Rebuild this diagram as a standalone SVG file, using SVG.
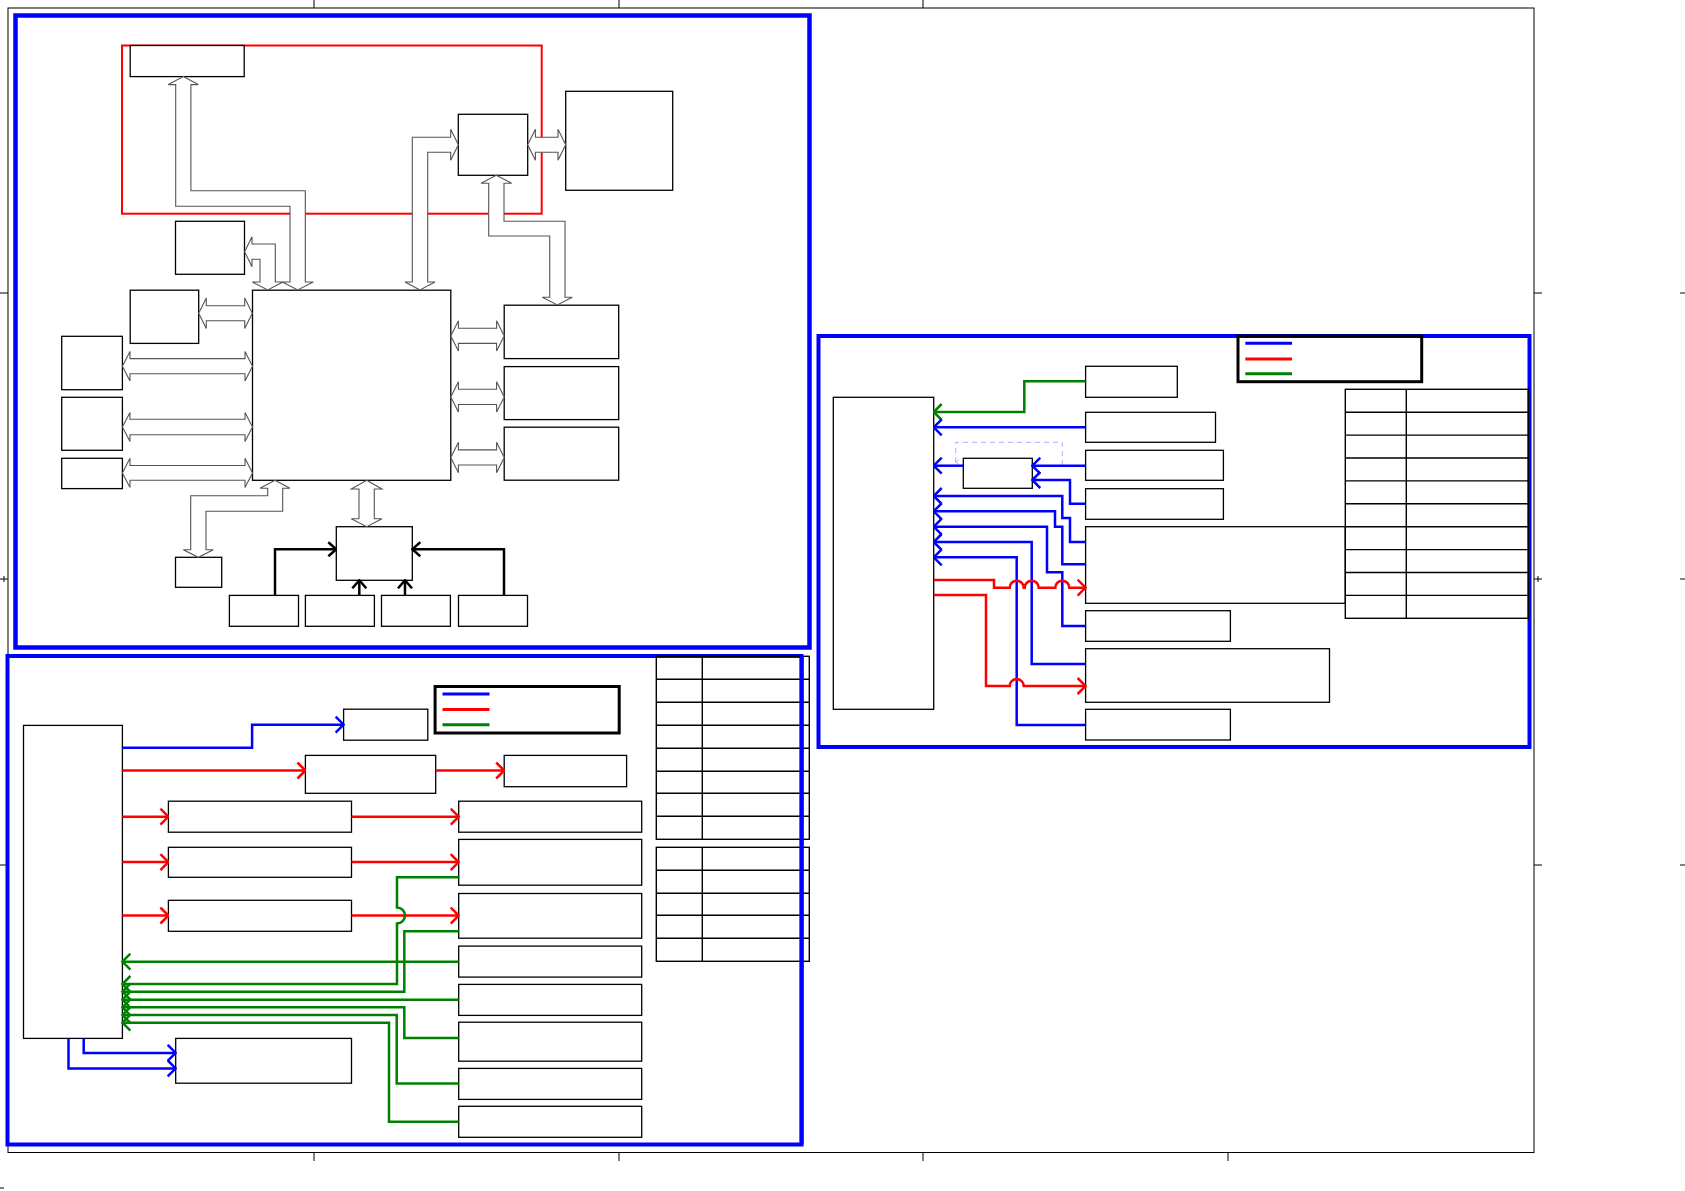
<svg xmlns="http://www.w3.org/2000/svg" width="1685" height="1191" viewBox="0 0 1685 1191">
<style>
.frame{fill:none;stroke:#000;stroke-width:1}
.tick{stroke:#000;stroke-width:1}
.panel{fill:none;stroke:#0000ff}
.box{fill:#fff;stroke:#000;stroke-width:1.3}
.tbl{fill:none;stroke:#000;stroke-width:1.4}
.blk{fill:#fff;stroke:#555;stroke-width:1.1;stroke-linejoin:miter}
.cb{fill:none;stroke:#0000ff;stroke-width:2.5}
.cr{fill:none;stroke:#ff0000;stroke-width:2.5}
.cg{fill:none;stroke:#008000;stroke-width:2.5}
.ck{fill:none;stroke:#000;stroke-width:2.5}
.legend{fill:none;stroke:#000;stroke-width:3}
</style>
<defs>
<marker id="mb" viewBox="0 0 10 18" refX="9" refY="9" markerWidth="10" markerHeight="18" markerUnits="userSpaceOnUse" orient="auto"><path d="M1,1 L9,9 L1,17" fill="none" stroke="#0000ff" stroke-width="2.5"/></marker>
<marker id="mr" viewBox="0 0 10 18" refX="9" refY="9" markerWidth="10" markerHeight="18" markerUnits="userSpaceOnUse" orient="auto"><path d="M1,1 L9,9 L1,17" fill="none" stroke="#ff0000" stroke-width="2.5"/></marker>
<marker id="mg" viewBox="0 0 10 18" refX="9" refY="9" markerWidth="10" markerHeight="18" markerUnits="userSpaceOnUse" orient="auto"><path d="M1,1 L9,9 L1,17" fill="none" stroke="#008000" stroke-width="2.5"/></marker>
<marker id="mk" viewBox="0 0 10 16" refX="9" refY="8" markerWidth="10" markerHeight="16" markerUnits="userSpaceOnUse" orient="auto"><path d="M1,1 L9,8 L1,15" fill="none" stroke="#000" stroke-width="2.5"/></marker>
<marker id="ml" viewBox="0 0 6 6" refX="3" refY="5" markerWidth="6" markerHeight="6" markerUnits="userSpaceOnUse" orient="auto-start-reverse"><path d="M0.5,2 L3,5 L5.5,2" fill="none" stroke="#aab0ff" stroke-width="1"/></marker>
</defs>
<rect width="1685" height="1191" fill="#fff"/>

<g id="page-frame">
<rect class="frame" x="8" y="8" width="1526" height="1144.5"/>
<line class="tick" x1="314" y1="0" x2="314" y2="8"/>
<line class="tick" x1="619" y1="0" x2="619" y2="8"/>
<line class="tick" x1="923" y1="0" x2="923" y2="8"/>
<line class="tick" x1="314" y1="1152.5" x2="314" y2="1161"/>
<line class="tick" x1="619" y1="1152.5" x2="619" y2="1161"/>
<line class="tick" x1="923" y1="1152.5" x2="923" y2="1161"/>
<line class="tick" x1="1228" y1="1152.5" x2="1228" y2="1161"/>
<line class="tick" x1="0" y1="293" x2="8" y2="293"/>
<line class="tick" x1="0" y1="579" x2="8" y2="579"/>
<line class="tick" x1="4" y1="576" x2="4" y2="582"/>
<line class="tick" x1="0" y1="865" x2="8" y2="865"/>
<line class="tick" x1="1534" y1="293" x2="1542" y2="293"/>
<line class="tick" x1="1534" y1="579" x2="1542" y2="579"/>
<line class="tick" x1="1538" y1="576" x2="1538" y2="582"/>
<line class="tick" x1="1534" y1="865" x2="1542" y2="865"/>
<line class="tick" x1="1680" y1="293" x2="1685" y2="293"/>
<line class="tick" x1="1680" y1="579" x2="1685" y2="579"/>
<line class="tick" x1="1680" y1="865" x2="1685" y2="865"/>
<line class="tick" x1="0" y1="1188" x2="4" y2="1188"/>
</g>

<g id="panels">
<rect class="panel" x="15.5" y="15.5" width="794" height="632" stroke-width="4.5"/>
<rect class="panel" x="818.5" y="336" width="711" height="411" stroke-width="4"/>
<rect class="panel" x="7.5" y="656" width="794" height="488.5" stroke-width="4"/>
<rect id="red-zone" x="122" y="45.5" width="419.7" height="168.2" fill="none" stroke="#ff0000" stroke-width="2"/>
</g>

<!-- Panel 1 nodes -->
<g id="n-a"><rect class="box" x="130.2" y="45.5" width="114" height="31.1"/></g>
<g id="n-b"><rect class="box" x="458.3" y="114.3" width="69.4" height="61"/></g>
<g id="n-c"><rect class="box" x="565.7" y="91.3" width="107" height="99"/></g>
<g id="n-d"><rect class="box" x="175.5" y="221.3" width="69" height="53"/></g>
<g id="n-e"><rect class="box" x="130.2" y="290.2" width="68.5" height="53.2"/></g>
<g id="n-f"><rect class="box" x="61.7" y="336.3" width="60.7" height="53.4"/></g>
<g id="n-g"><rect class="box" x="61.7" y="397.3" width="60.7" height="53"/></g>
<g id="n-h"><rect class="box" x="61.7" y="458.3" width="60.7" height="30.3"/></g>
<g id="n-main"><rect class="box" x="252.5" y="290.2" width="198.3" height="190.1"/></g>
<g id="n-r1"><rect class="box" x="504.2" y="305.2" width="114.5" height="53.4"/></g>
<g id="n-r2"><rect class="box" x="504.2" y="366.6" width="114.5" height="53"/></g>
<g id="n-r3"><rect class="box" x="504.2" y="427.2" width="114.5" height="53"/></g>
<g id="n-i"><rect class="box" x="175.5" y="557.3" width="46.2" height="30"/></g>
<g id="n-j"><rect class="box" x="336.3" y="526.7" width="76" height="53.6"/></g>
<g id="n-k1"><rect class="box" x="229.4" y="595.4" width="69.1" height="30.9"/></g>
<g id="n-k2"><rect class="box" x="305.4" y="595.4" width="69" height="30.9"/></g>
<g id="n-k3"><rect class="box" x="381.5" y="595.4" width="68.9" height="30.9"/></g>
<g id="n-k4"><rect class="box" x="458.5" y="595.4" width="69" height="30.9"/></g>

<!-- Panel 2 nodes -->
<g id="n-p"><rect class="box" x="833.3" y="397.3" width="100.4" height="312"/></g>
<g id="n-g1"><rect class="box" x="1085.6" y="366.3" width="91.7" height="31"/></g>
<g id="n-q2"><rect class="box" x="1085.6" y="412.3" width="129.9" height="30"/></g>
<g id="n-q3"><rect class="box" x="1085.6" y="450.3" width="137.8" height="30"/></g>
<g id="n-q4"><rect class="box" x="1085.6" y="488.7" width="137.8" height="30.6"/></g>
<g id="n-q5"><rect class="box" x="1085.6" y="526.7" width="259.7" height="76.6"/></g>
<g id="n-q6"><rect class="box" x="1085.6" y="610.7" width="144.8" height="30.6"/></g>
<g id="n-q7"><rect class="box" x="1085.6" y="648.7" width="243.9" height="53.6"/></g>
<g id="n-q8"><rect class="box" x="1085.6" y="709.3" width="144.8" height="30.7"/></g>
<g id="n-s"><rect class="box" x="963.3" y="458.3" width="69" height="30"/></g>
<g id="legend-2">
<rect class="legend" x="1238" y="336" width="183.7" height="45.7"/>
<line x1="1245.3" y1="343.3" x2="1292" y2="343.3" stroke="#0000ff" stroke-width="3"/>
<line x1="1245.3" y1="359" x2="1292" y2="359" stroke="#ff0000" stroke-width="3"/>
<line x1="1245.3" y1="373.7" x2="1292" y2="373.7" stroke="#008000" stroke-width="3"/>
</g>
<g id="table-2">
<rect class="tbl" x="1345.3" y="389.3" width="183" height="229"/>
<line class="tbl" x1="1406.3" y1="389.3" x2="1406.3" y2="618.3"/>
<path class="tbl" d="M1345.3,412.2H1528.3M1345.3,435.1H1528.3M1345.3,458H1528.3M1345.3,480.9H1528.3M1345.3,503.8H1528.3M1345.3,526.7H1528.3M1345.3,549.6H1528.3M1345.3,572.5H1528.3M1345.3,595.4H1528.3"/>
</g>

<!-- Panel 3 nodes -->
<g id="n-l"><rect class="box" x="23.5" y="725.4" width="98.9" height="313"/></g>
<g id="n-t1"><rect class="box" x="343.6" y="709.2" width="84.2" height="31"/></g>
<g id="n-u1"><rect class="box" x="305.4" y="755.4" width="130.3" height="37.9"/></g>
<g id="n-v1"><rect class="box" x="504.2" y="755.4" width="122.4" height="31.3"/></g>
<g id="n-u2"><rect class="box" x="168.4" y="801.2" width="183.1" height="31"/></g>
<g id="n-v2"><rect class="box" x="458.7" y="801.2" width="183" height="31"/></g>
<g id="n-u3"><rect class="box" x="168.4" y="847.3" width="183.1" height="30"/></g>
<g id="n-v3"><rect class="box" x="458.7" y="839.4" width="183" height="45.8"/></g>
<g id="n-u4"><rect class="box" x="168.4" y="900.3" width="183.1" height="31"/></g>
<g id="n-v4"><rect class="box" x="458.7" y="893.5" width="183" height="44.7"/></g>
<g id="n-v5"><rect class="box" x="458.7" y="946.1" width="183" height="31"/></g>
<g id="n-v6"><rect class="box" x="458.7" y="984.4" width="183" height="31"/></g>
<g id="n-v7"><rect class="box" x="458.7" y="1022.2" width="183" height="39"/></g>
<g id="n-v8"><rect class="box" x="458.7" y="1068.4" width="183" height="31"/></g>
<g id="n-v9"><rect class="box" x="458.7" y="1106.3" width="183" height="31"/></g>
<g id="n-w"><rect class="box" x="175.7" y="1038.4" width="175.8" height="44.8"/></g>
<g id="legend-3">
<rect class="legend" x="435.1" y="686.5" width="184.1" height="46.5"/>
<line x1="442.5" y1="694.1" x2="489.5" y2="694.1" stroke="#0000ff" stroke-width="3"/>
<line x1="442.5" y1="709.6" x2="489.5" y2="709.6" stroke="#ff0000" stroke-width="3"/>
<line x1="442.5" y1="724.7" x2="489.5" y2="724.7" stroke="#008000" stroke-width="3"/>
</g>
<g id="table-3a">
<rect class="tbl" x="656.3" y="656.3" width="153" height="183"/>
<line class="tbl" x1="702.3" y1="656.3" x2="702.3" y2="839.3"/>
<path class="tbl" d="M656.3,679.3H809.3M656.3,702.3H809.3M656.3,725.3H809.3M656.3,748.3H809.3M656.3,771.3H809.3M656.3,793.3H809.3M656.3,816.3H809.3"/>
</g>
<g id="table-3b">
<rect class="tbl" x="656.3" y="847.3" width="153" height="114"/>
<line class="tbl" x1="702.3" y1="847.3" x2="702.3" y2="961.3"/>
<path class="tbl" d="M656.3,870.3H809.3M656.3,893.3H809.3M656.3,915.3H809.3M656.3,938.3H809.3"/>
</g>
<line x1="801.7" y1="656" x2="801.7" y2="1144.5" stroke="#0000ff" stroke-width="4"/>

<g id="connectors">
<!-- Panel 1 hollow block arrows -->
<polygon class="blk" points="198.7,313.2 206.3,297.9 206.3,305.7 244.7,305.7 244.7,297.9 252.3,313.2 244.7,328.5 244.7,320.7 206.3,320.7 206.3,328.5"/>
<polygon class="blk" points="122.4,366.2 130,351.4 130,358.6 245,358.6 245,351.4 252.5,366.2 245,381 245,373.7 130,373.7 130,381"/>
<polygon class="blk" points="122.4,427 130,412.4 130,419.2 245,419.2 245,412.4 252.5,427 245,441.6 245,434.8 130,434.8 130,441.6"/>
<polygon class="blk" points="122.4,472.9 130,458.3 130,465.5 245,465.5 245,458.3 252.5,472.9 245,487.5 245,480.2 130,480.2 130,487.5"/>
<polygon class="blk" points="450.8,335.9 458.4,320.7 458.4,328.3 496.6,328.3 496.6,320.7 504.2,335.9 496.6,351.1 496.6,343.4 458.4,343.4 458.4,351.1"/>
<polygon class="blk" points="450.8,396.9 458.4,381.7 458.4,389.3 496.6,389.3 496.6,381.7 504.2,396.9 496.6,412.1 496.6,404.5 458.4,404.5 458.4,412.1"/>
<polygon class="blk" points="450.8,457.5 458.4,442.3 458.4,449.9 496.6,449.9 496.6,442.3 504.2,457.5 496.6,472.7 496.6,465 458.4,465 458.4,472.7"/>
<polygon class="blk" points="527.7,144.8 535.4,129.3 535.4,137.3 558,137.3 558,129.3 565.7,144.8 558,160.3 558,152.3 535.4,152.3 535.4,160.3"/>
<polygon class="blk" points="366.7,480.3 382,489 374.3,489 374.3,518.7 382,518.7 366.7,526.7 351.3,518.7 359,518.7 359,489 351.3,489"/>
<polygon class="blk" points="183.3,76.6 198.3,84.6 190.9,84.6 190.9,190.7 305.3,190.7 305.3,282 313.3,282 297.7,290 282.3,282 290,282 290,206.2 175.7,206.2 175.7,84.6 168.3,84.6"/>
<polygon class="blk" points="244.6,251.7 252,236.7 252,244 275.3,244 275.3,282 283,282 267.7,290 252.3,282 260,282 260,259.3 252,259.3 252,266.7"/>
<polygon class="blk" points="420,290 405,282 412.3,282 412.3,137.3 450.7,137.3 450.7,129.3 458.3,144.8 450.7,160.3 450.7,152.3 427.7,152.3 427.7,282 435,282"/>
<polygon class="blk" points="496.3,175.3 511.7,183.3 504,183.3 504,221.3 565,221.3 565,297.3 572.3,297.3 557.3,305 542.3,297.3 549.7,297.3 549.7,236 488.7,236 488.7,183.3 481,183.3"/>
<polygon class="blk" points="275,480.3 290,488.3 282.7,488.3 282.7,511.3 206,511.3 206,549.7 213.3,549.7 198.3,557.3 183.3,549.7 190.7,549.7 190.7,495.7 267.7,495.7 267.7,488.3 260,488.3"/>
<!-- Panel 1 black arrows into J -->
<path class="ck" d="M275,595.4 V549.3 H336.3" marker-end="url(#mk)"/>
<path class="ck" d="M504,595.4 V549.3 H412.3" marker-end="url(#mk)"/>
<path class="ck" d="M359.3,595.4 V580.3" marker-end="url(#mk)"/>
<path class="ck" d="M405,595.4 V580.3" marker-end="url(#mk)"/>

<!-- Panel 2 -->
<path d="M955.7,462 V442.3 H1062.3 V465.7" fill="none" stroke="#aab0ff" stroke-width="1" stroke-dasharray="5,4" marker-start="url(#ml)"/>
<path class="cg" d="M1085.6,381.3 H1024.3 V412 H933.7" marker-end="url(#mg)"/>
<path class="cb" d="M1085.6,427.3 H933.7" marker-end="url(#mb)"/>
<path class="cb" d="M1085.6,465.7 H1032.3" marker-end="url(#mb)"/>
<path class="cb" d="M963.3,465.7 H933.7" marker-end="url(#mb)"/>
<path class="cb" d="M1085.6,503.7 H1070 V480 H1032.3" marker-end="url(#mb)"/>
<path class="cb" d="M1085.6,542 H1070 V518 H1062.3 V496 H933.7" marker-end="url(#mb)"/>
<path class="cb" d="M1085.6,564.3 H1062.3 V526.7 H1055 V511.3 H933.7" marker-end="url(#mb)"/>
<path class="cb" d="M1085.6,626 H1062.3 V572.3 H1047 V526.7 H933.7" marker-end="url(#mb)"/>
<path class="cb" d="M1085.6,664 H1031.7 V542 H933.7" marker-end="url(#mb)"/>
<path class="cb" d="M1085.6,725 H1016.7 V557.3 H933.7" marker-end="url(#mb)"/>
<path class="cr" d="M933.7,580 H994 V587.7 H1009.7 A7,7 0 0 1 1023.7,587.7 H1024.7 A7,7 0 0 1 1038.7,587.7 H1055.3 A7,7 0 0 1 1069.3,587.7 H1085.6" marker-end="url(#mr)"/>
<path class="cr" d="M933.7,595 H986 V686 H1009.7 A7,7 0 0 1 1023.7,686 H1085.6" marker-end="url(#mr)"/>

<!-- Panel 3 -->
<path class="cb" d="M122.4,747.8 H252.1 V724.7 H343.6" marker-end="url(#mb)"/>
<path class="cr" d="M122.4,770.5 H305.4" marker-end="url(#mr)"/>
<path class="cr" d="M435.7,770.5 H504.2" marker-end="url(#mr)"/>
<path class="cr" d="M122.4,816.7 H168.4" marker-end="url(#mr)"/>
<path class="cr" d="M351.5,816.7 H458.7" marker-end="url(#mr)"/>
<path class="cr" d="M122.4,862.1 H168.4" marker-end="url(#mr)"/>
<path class="cr" d="M351.5,862.1 H458.7" marker-end="url(#mr)"/>
<path class="cr" d="M122.4,915.5 H168.4" marker-end="url(#mr)"/>
<path class="cr" d="M351.5,915.5 H458.7" marker-end="url(#mr)"/>
<path class="cg" d="M458.7,961.7 H122.4" marker-end="url(#mg)"/>
<path class="cg" d="M458.7,877.3 H397 V907.5 A8,8 0 0 1 397,923.5 V984 H122.4" marker-end="url(#mg)"/>
<path class="cg" d="M458.7,931.3 H404.3 V991.7 H122.4" marker-end="url(#mg)"/>
<path class="cg" d="M458.7,999.7 H122.4" marker-end="url(#mg)"/>
<path class="cg" d="M458.7,1038.1 H404.3 V1007.3 H122.4" marker-end="url(#mg)"/>
<path class="cg" d="M458.7,1083.5 H396.7 V1015 H122.4" marker-end="url(#mg)"/>
<path class="cg" d="M458.7,1121.8 H389 V1022.7 H122.4" marker-end="url(#mg)"/>
<path class="cb" d="M83.7,1038.4 V1052.9 H175.7" marker-end="url(#mb)"/>
<path class="cb" d="M68.5,1038.4 V1068.4 H175.7" marker-end="url(#mb)"/>
</g>
</svg>
